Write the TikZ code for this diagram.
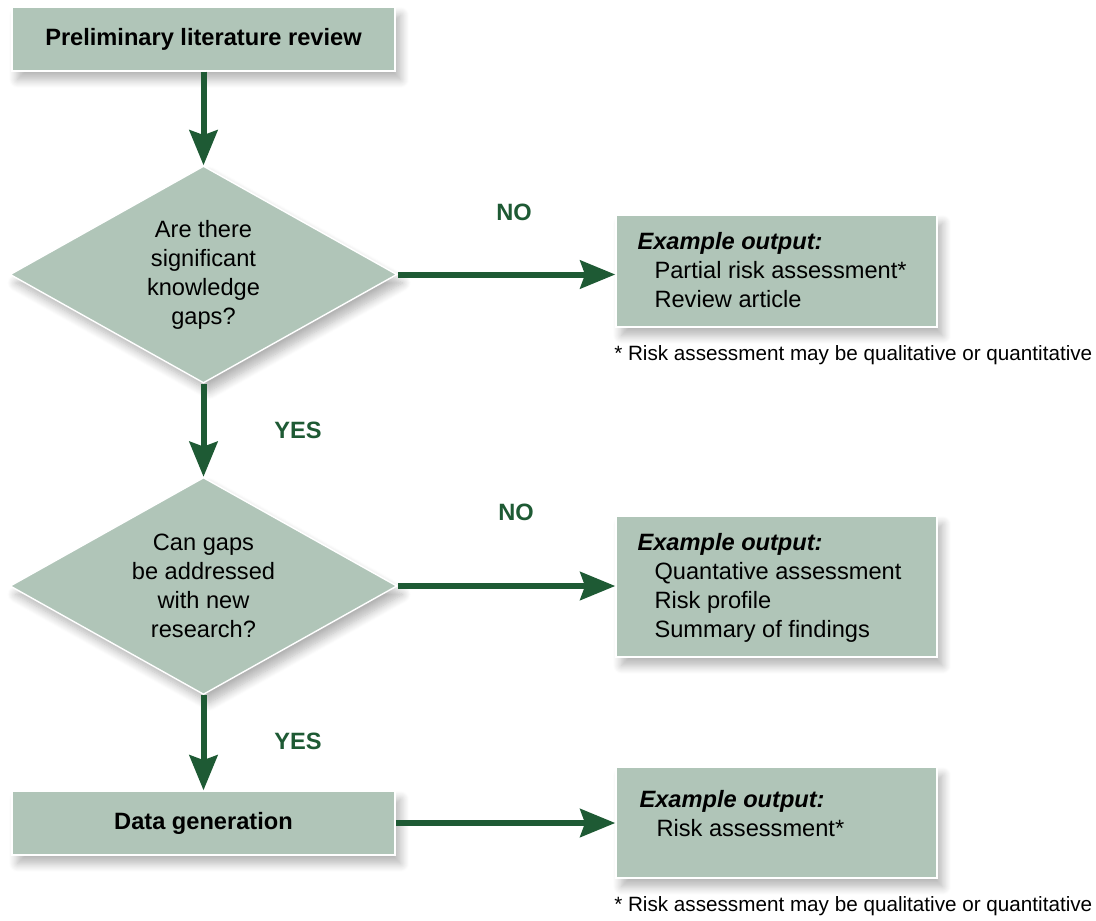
\documentclass[tikz,border=0pt]{standalone}
\usepackage{fontspec}
\setmainfont{Liberation Sans}
\usetikzlibrary{shapes.geometric,arrows.meta,shadows.blur}
\definecolor{sage}{RGB}{176,197,184}
\definecolor{darkgreen}{RGB}{30,90,52}
\tikzset{
  softshadow/.style={blur shadow={shadow xshift=4pt, shadow yshift=-6pt, shadow blur steps=10, shadow blur radius=6pt, shadow opacity=30}},
  stepbox/.style={rectangle, fill=sage, draw=white, line width=1pt, softshadow,
    minimum width=9.575cm, minimum height=1.6cm, font=\fontsize{16.8}{20.6}\selectfont\bfseries},
  decision/.style={diamond, aspect=1.783, fill=sage, draw=white, line width=1pt, softshadow, inner sep=0pt,
    minimum width=9.675cm, minimum height=5.425cm, align=center, font=\fontsize{16.8}{20.6}\selectfont},
  outbox/.style={rectangle, fill=sage, draw=white, line width=1pt, softshadow, minimum width=8.025cm},
  outtext/.style={anchor=north west, align=left, inner sep=0pt, font=\fontsize{16.8}{20.6}\selectfont},
  flow/.style={-{Stealth[length=0.875cm, width=0.7cm, inset=0.12cm]}, line width=0.15cm, draw=darkgreen},
  answer/.style={font=\fontsize{16.8}{18}\selectfont\bfseries, text=darkgreen},
  note/.style={anchor=west, inner sep=0pt, font=\fontsize{14.7}{18}\selectfont}
}
\newcommand{\exhead}{\textbf{\textit{Example output:}}}
\newcommand{\exitem}{\hspace*{0.425cm}}
\begin{document}
\begin{tikzpicture}[x=0.025cm, y=-0.025cm]
    \useasboundingbox (0,0) rectangle (1096,920);

    % Main column
    \node[stepbox] (review) at (203.5,39) {Preliminary literature review};
    \node[decision] (gaps) at (203.5,274.5) {Are there\\significant\\knowledge\\gaps?};
    \node[decision] (research) at (203.5,586) {Can gaps\\be addressed\\with new\\research?};
    \node[stepbox] (datagen) at (203.5,823) {Data generation};

    % Output boxes
    \node[outbox, minimum height=2.8cm] (outA) at (776.5,271) {};
    \node[outbox, minimum height=3.525cm] (outB) at (776.5,586.5) {};
    \node[outbox, minimum height=2.775cm] (outC) at (776.5,822.5) {};

    \node[outtext, xshift=0.55cm, yshift=-0.45cm] (outAtext) at (outA.north west)
        {\exhead\\\exitem Partial risk assessment*\\\exitem Review article};
    \node[outtext, xshift=0.55cm, yshift=-0.45cm] (outBtext) at (outB.north west)
        {\exhead\\\exitem Quantative assessment\\\exitem Risk profile\\\exitem Summary of findings};
    \node[outtext, xshift=0.6cm, yshift=-0.6cm] (outCtext) at (outC.north west)
        {\exhead\\\exitem Risk assessment*};

    % Footnotes
    \node[note] (noteA) at (614,355) {* Risk assessment may be qualitative or quantitative};
    \node[note] (noteC) at (614,906) {* Risk assessment may be qualitative or quantitative};

    % Connectors
    \draw[flow] (review) -- (gaps);
    \draw[flow] (gaps) -- (research);
    \draw[flow] (research) -- (datagen);
    \draw[flow] (gaps.east) -- (gaps.east -| outA.west);
    \draw[flow] (research.east) -- (research.east -| outB.west);
    \draw[flow] (datagen.east) -- (datagen.east -| outC.west);

    % Answers
    \node[answer] (noA) at (514,212) {NO};
    \node[answer] (yesA) at (298,430) {YES};
    \node[answer] (noB) at (516,512) {NO};
    \node[answer] (yesB) at (298,741) {YES};
\end{tikzpicture}
\end{document}
